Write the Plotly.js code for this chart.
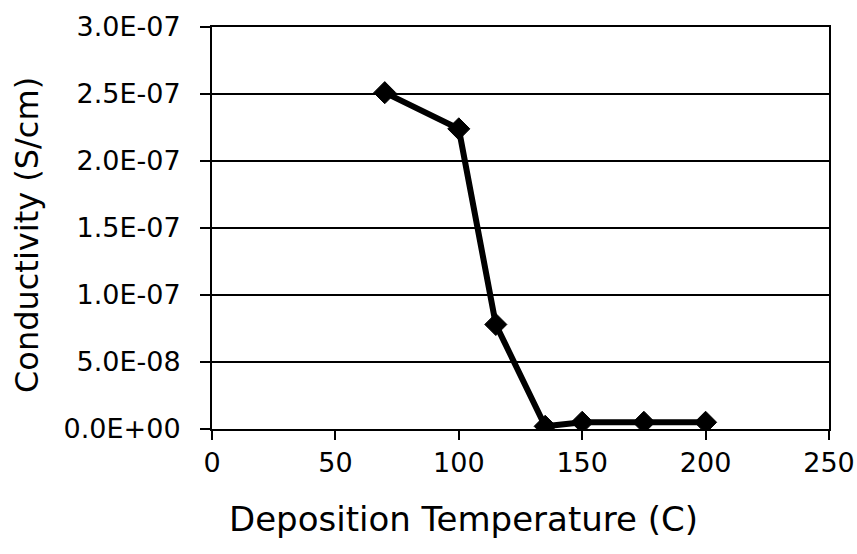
<!DOCTYPE html>
<html>
<head>
<meta charset="utf-8">
<script src="https://cdn.plot.ly/plotly-3.0.1.min.js"></script>
<style>html,body{margin:0;padding:0;background:#fff;}#chart{width:857px;height:554px;}</style>
</head>
<body>
<div id="chart"></div>
<script>
const temperature = [70, 100, 115, 135, 150, 175, 200];
const conductivity = [2.51e-7, 2.24e-7, 7.8e-8, 2e-9, 5e-9, 5e-9, 5e-9];
const yTickVals = [0, 5e-8, 1e-7, 1.5e-7, 2e-7, 2.5e-7, 3e-7];
const yTickText = ['0.0E+00', '5.0E-08', '1.0E-07', '1.5E-07', '2.0E-07', '2.5E-07', '3.0E-07'];
const xTickVals = [0, 50, 100, 150, 200, 250];
const xTitle = 'Deposition Temperature (C)';
const yTitle = 'Conductivity (S/cm)';

const font = 'DejaVu Sans, Arial, sans-serif';

Plotly.newPlot('chart', [{
  x: temperature,
  y: conductivity,
  type: 'scatter',
  mode: 'lines+markers',
  line: {color: '#000', width: 6},
  marker: {symbol: 'diamond', size: 17, color: '#000', line: {color: '#000', width: 1}},
  showlegend: false
}], {
  width: 857, height: 554,
  margin: {l: 212, r: 28, t: 27, b: 125},
  paper_bgcolor: '#fff', plot_bgcolor: '#fff',
  font: {family: font, color: '#000'},
  xaxis: {
    range: [0, 250], tickvals: xTickVals, ticktext: xTickVals.map(String),
    showgrid: false, zeroline: false,
    showline: true, linecolor: '#000', linewidth: 2, mirror: true,
    ticks: 'outside', ticklen: 9, tickwidth: 2, tickcolor: '#000',
    tickfont: {family: font, size: 27, color: '#000'}
  },
  yaxis: {
    range: [0, 3e-7], tickvals: yTickVals, ticktext: yTickText,
    showgrid: true, gridcolor: '#000', gridwidth: 2, zeroline: false,
    showline: true, linecolor: '#000', linewidth: 2, mirror: true,
    ticks: 'outside', ticklen: 10, tickwidth: 2, tickcolor: '#000',
    ticklabelstandoff: 14,
    tickfont: {family: font, size: 27, color: '#000'}
  },
  annotations: [{
    text: xTitle, xref: 'paper', yref: 'paper', x: 0.407, y: -0.224,
    xanchor: 'center', yanchor: 'middle', showarrow: false,
    font: {family: font, size: 34, color: '#000'}
  }, {
    text: yTitle, xref: 'paper', yref: 'paper', x: -0.2998, y: 0.4826,
    xanchor: 'center', yanchor: 'middle', showarrow: false, textangle: -90,
    font: {family: font, size: 32, color: '#000'}
  }]
}, {displayModeBar: false, staticPlot: true});
</script>
</body>
</html>
